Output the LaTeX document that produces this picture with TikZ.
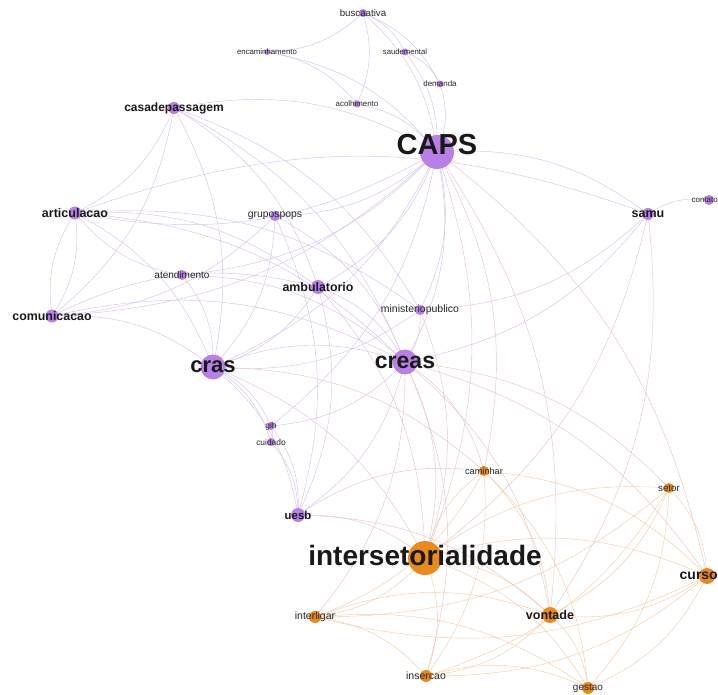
\documentclass[tikz,border=0pt]{standalone}
\usepackage{fontspec}
\setmainfont{Liberation Sans}
\usetikzlibrary{backgrounds}
\definecolor{vpur}{RGB}{184,128,230}
\definecolor{vora}{RGB}{232,138,28}
\definecolor{epp}{RGB}{214,194,238}
\definecolor{eoo}{RGB}{243,205,165}
\definecolor{epo}{RGB}{232,195,205}
\tikzset{
  vp/.style={circle,fill=vpur,inner sep=0pt,minimum size=#1},
  vo/.style={circle,fill=vora,inner sep=0pt,minimum size=#1},
  lbs/.style={inner sep=0pt,font=\fontsize{#1}{#1}\selectfont,text=black!85},
  lbb/.style={inner sep=0pt,font=\fontsize{#1}{#1}\selectfont\bfseries,text=black!90},
  pp/.style={draw=epp,line width=0.45pt},
  oo/.style={draw=eoo,line width=0.45pt},
  po/.style={draw=epo,line width=0.45pt},
}
\begin{document}
\begin{tikzpicture}[x=1pt,y=-1pt]
\clip (0,0) rectangle (718,695);
% vertices
\node[vp=8pt] (bus) at (363,13) {};
\node[vp=6pt] (enc) at (267,52) {};
\node[vp=7pt] (sau) at (405,52) {};
\node[vp=7pt] (dem) at (440,84) {};
\node[vp=7pt] (aco) at (357,104) {};
\node[vp=12pt] (cas) at (174,108) {};
\node[vp=34pt] (caps) at (437,152) {};
\node[vp=13pt] (art) at (75,213) {};
\node[vp=10pt] (gru) at (275,216) {};
\node[vp=12pt] (samu) at (648,214) {};
\node[vp=10pt] (con) at (709,200) {};
\node[vp=10pt] (ate) at (182,275) {};
\node[vp=14pt] (amb) at (318,287) {};
\node[vp=13pt] (com) at (52,316) {};
\node[vp=10pt] (min) at (420,310) {};
\node[vp=25pt] (cras) at (213,367) {};
\node[vp=25pt] (creas) at (405,362) {};
\node[vp=8pt] (gih) at (271,426) {};
\node[vp=8pt] (cui) at (271,442) {};
\node[vo=10pt] (cam) at (484,471) {};
\node[vp=14pt] (uesb) at (298,515) {};
\node[vo=10pt] (set) at (669,488) {};
\node[vo=34pt] (int) at (425,558) {};
\node[vo=16pt] (cur) at (707,576) {};
\node[vo=12pt] (itl) at (315,617) {};
\node[vo=16pt] (von) at (550,615) {};
\node[vo=12pt] (ins) at (426,676) {};
\node[vo=12pt] (ges) at (588,688) {};
% edges
\begin{scope}[on background layer]
\foreach \a/\b in {bus/enc,bus/aco,bus/sau,bus/dem,bus/caps,enc/aco,enc/caps,sau/dem,sau/caps,dem/caps,aco/caps,
  cas/caps,cas/art,cas/cras,cas/creas,cas/amb,cas/min,cas/com,
  caps/art,caps/com,caps/cras,caps/creas,caps/samu,caps/gru,caps/ate,caps/amb,caps/min,caps/gih,
  samu/con,samu/creas,samu/min,art/samu,
  art/com,com/art,art/cras,art/creas,art/min,art/amb,
  com/cras,com/creas,com/amb,ate/cras,ate/creas,ate/art,
  gru/cras,gru/creas,gru/uesb,gru/com,amb/cras,amb/creas,amb/uesb,
  min/creas,min/cras,cras/creas,cras/gih,cras/cui,cras/uesb,
  gih/cui,gih/uesb,cui/uesb,creas/uesb,creas/gih}
  \draw[pp] (\a.center) to[bend left=20] (\b.center);
\foreach \a/\b in {caps/int,caps/cam,caps/von,caps/cur,samu/von,samu/int,
  creas/int,creas/cam,creas/set,creas/cur,creas/von,creas/itl,creas/ins,
  cras/int,cras/cam,uesb/int,uesb/von,uesb/cam,amb/int,min/int}
  \draw[po] (\a.center) to[bend left=20] (\b.center);
\foreach \a/\b in {int/cam,int/set,int/cur,int/itl,int/von,int/ins,int/ges,
  cam/itl,cam/von,cam/ins,cam/cur,cam/ges,
  set/cur,set/von,set/ges,set/itl,set/ins,
  cur/itl,cur/von,cur/ges,cur/ins,
  itl/von,itl/ins,itl/ges,von/ins,von/ges,ins/ges}
  \draw[oo] (\a.center) to[bend left=20] (\b.center);
\end{scope}
% labels
\node[lbs=9.7] (bus-t) at (bus) {buscaativa};
\node[lbs=7.8] (enc-t) at (enc) {encaminhamento};
\node[lbs=7.7] (sau-t) at (sau) {saudemental};
\node[lbs=8] (dem-t) at (dem) {demanda};
\node[lbs=7.9] (aco-t) at (aco) {acolhimento};
\node[lbb=12] (cas-t) at (cas) {casadepassagem};
\node[lbb=29] (caps-t) at ([yshift=7]caps) {CAPS};
\node[lbb=12.5] (art-t) at (art) {articulacao};
\node[lbs=10.4] (gru-t) at (gru) {grupospops};
\node[lbb=12.5] (samu-t) at (samu) {samu};
\node[lbs=8, anchor=east] (con-t) at (718,200) {contato};
\node[lbs=10] (ate-t) at (ate) {atendimento};
\node[lbb=12.4] (amb-t) at (amb) {ambulatorio};
\node[lbb=12.4] (com-t) at (com) {comunicacao};
\node[lbs=10.5] (min-t) at (min) {ministeriopublico};
\node[lbb=22] (cras-t) at (cras) {cras};
\node[lbb=23] (creas-t) at (creas) {creas};
\node[lbs=8.4] (gih-t) at (gih) {gih};
\node[lbs=8.4] (cui-t) at (cui) {cuidado};
\node[lbs=9.2] (cam-t) at (cam) {caminhar};
\node[lbb=11.4] (uesb-t) at (uesb) {uesb};
\node[lbs=9.8] (set-t) at (set) {setor};
\node[lbb=28] (int-t) at ([yshift=3]int) {intersetorialidade};
\node[lbb=14, anchor=east] (cur-t) at (718,576) {curso};
\node[lbs=10.5] (itl-t) at (itl) {interligar};
\node[lbb=12.6] (von-t) at (von) {vontade};
\node[lbs=10.5] (ins-t) at (ins) {insercao};
\node[lbs=10] (ges-t) at (ges) {gestao};
\end{tikzpicture}
\end{document}
